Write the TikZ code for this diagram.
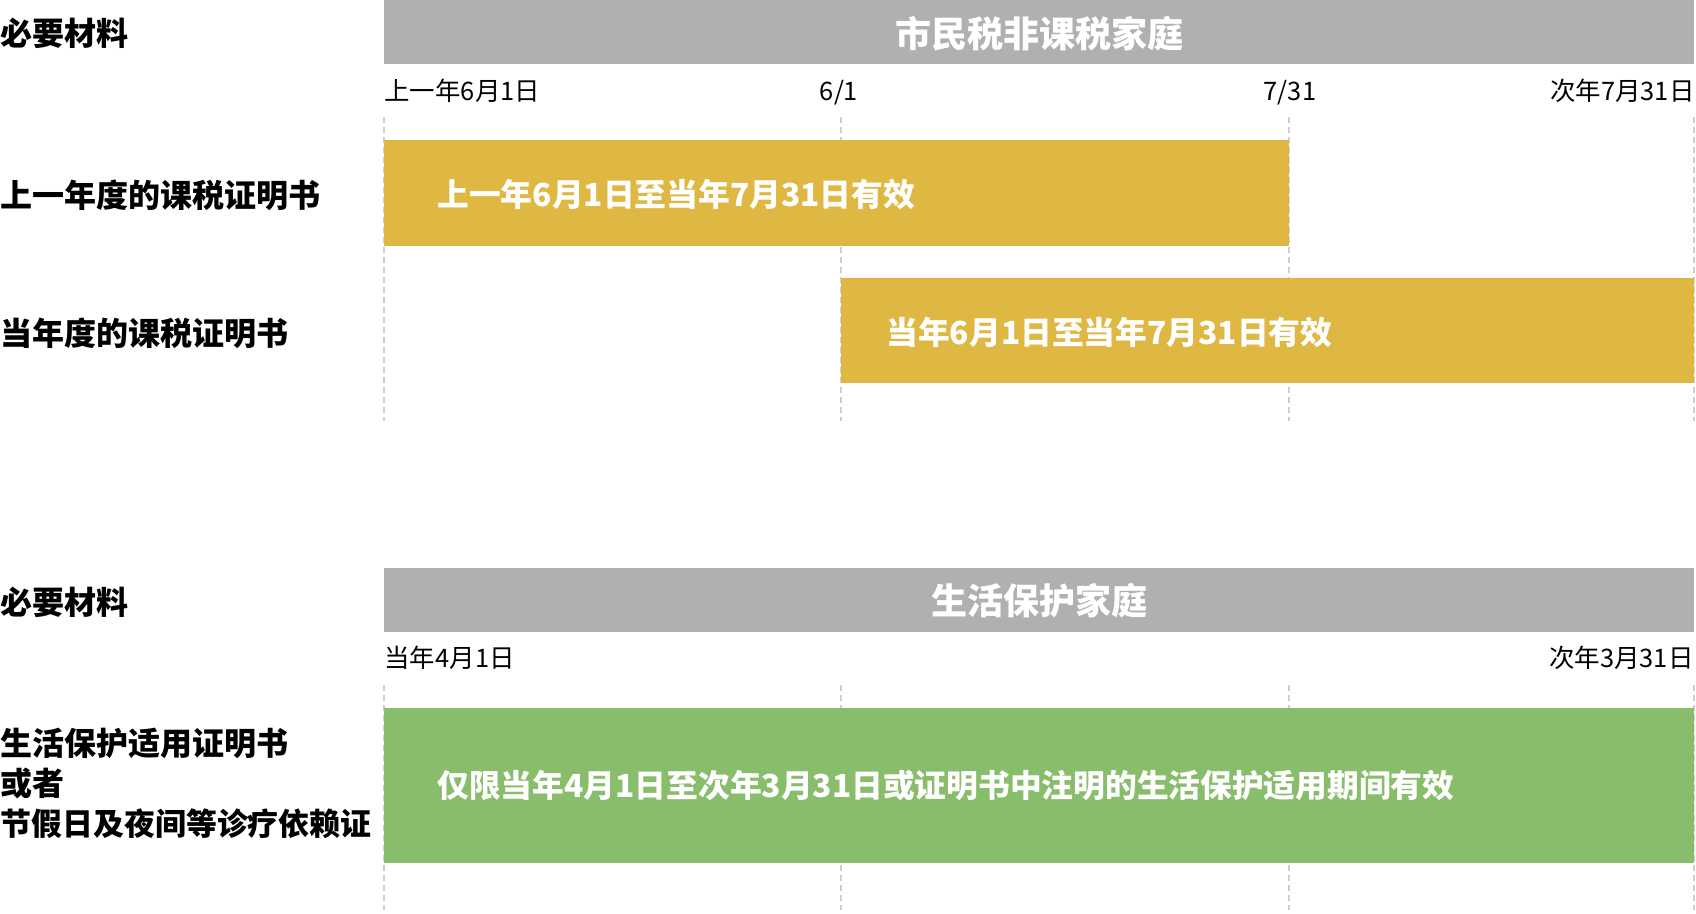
\documentclass[tikz,border=0pt]{standalone}
\usepackage{fontspec}
\setmainfont{Noto Sans CJK SC}
\definecolor{hdrgray}{RGB}{176,176,176}
\definecolor{bargold}{RGB}{223,184,68}
\definecolor{bargreen}{RGB}{136,189,107}
\definecolor{gridgray}{RGB}{206,206,206}
\tikzset{every picture/.style={line width=0.75pt}}
\tikzset{
  gridline/.style={draw=gridgray, line width=1.5pt, dash pattern=on 4.5pt off 3pt},
  rowlabel/.style={anchor=west, inner sep=0pt, align=left, font=\bfseries\fontsize{24}{30}\selectfont},
  ticklabel/.style={inner sep=0pt, font=\fontsize{19.1}{22}\selectfont},
  bartext/.style={anchor=west, inner sep=0pt, text=white, font=\bfseries\fontsize{23.8}{30}\selectfont},
  hdrtext/.style={inner sep=0pt, text=white, font=\bfseries\fontsize{27}{30}\selectfont},
}

\begin{document}
\begin{tikzpicture}[x=0.75pt,y=0.75pt,yscale=-1,xscale=1]
    \useasboundingbox (0,0) rectangle (1696,914);

    %Shape: Rectangle [header 1]
    \fill [hdrgray] (384,0) -- (1694,0) -- (1694,64) -- (384,64) -- cycle ;
    %Shape: Rectangle [header 2]
    \fill [hdrgray] (384,568) -- (1694,568) -- (1694,632) -- (384,632) -- cycle ;

    % Grid lines
    \foreach \gx in {384,841,1289,1694} {
      \draw [gridline] (\gx,117) -- (\gx,421) ;
      \draw [gridline] (\gx,685) -- (\gx,910) ;
    }

    %Shape: Rectangle [bar prev year]
    \fill [bargold] (384,140) -- (1289,140) -- (1289,246) -- (384,246) -- cycle ;
    %Shape: Rectangle [bar this year]
    \fill [bargold] (841,278) -- (1694,278) -- (1694,383) -- (841,383) -- cycle ;
    %Shape: Rectangle [bar welfare]
    \fill [bargreen] (384,708) -- (1694,708) -- (1694,863) -- (384,863) -- cycle ;

    % Text Node
    \draw (1039,34) node [hdrtext] (hdrTax) {市民税非课税家庭};
    % Text Node
    \draw (1039,601) node [hdrtext] (hdrWelfare) {生活保护家庭};

    % Text Node
    \draw (0,33) node [rowlabel] (needTax) {必要材料};
    % Text Node
    \draw (0,195) node [rowlabel] (certPrev) {上一年度的课税证明书};
    % Text Node
    \draw (0,333) node [rowlabel] (certCur) {当年度的课税证明书};
    % Text Node
    \draw (0,602) node [rowlabel] (needWelfare) {必要材料};
    % Text Node
    \draw (0,783) node [rowlabel] (certWelfare) {生活保护适用证明书\\或者\\{\fontsize{23.2}{30}\selectfont 节假日及夜间等诊疗依赖证}};

    % Text Node
    \draw (384,100) node [ticklabel, anchor=base west] (tickA) {上一年6月1日};
    % Text Node
    \draw (839,100) node [ticklabel, anchor=base] (tickB) {6/1};
    % Text Node
    \draw (1290,100) node [ticklabel, anchor=base] (tickC) {7/31};
    % Text Node
    \draw (1695,100) node [ticklabel, anchor=base east] (tickD) {次年7月31日};
    % Text Node
    \draw (384,667) node [ticklabel, anchor=base west] (tickE) {当年4月1日};
    % Text Node
    \draw (1694,667) node [ticklabel, anchor=base east] (tickF) {次年3月31日};

    % Text Node
    \draw (437,194) node [bartext] (validPrev) {上一年6月1日至当年7月31日有效};
    % Text Node
    \draw (886,332) node [bartext] (validCur) {当年6月1日至当年7月31日有效};
    % Text Node
    \draw (437,786) node [bartext] (validWelfare) {仅限当年4月1日至次年3月31日或证明书中注明的生活保护适用期间有效};

\end{tikzpicture}
\end{document}
